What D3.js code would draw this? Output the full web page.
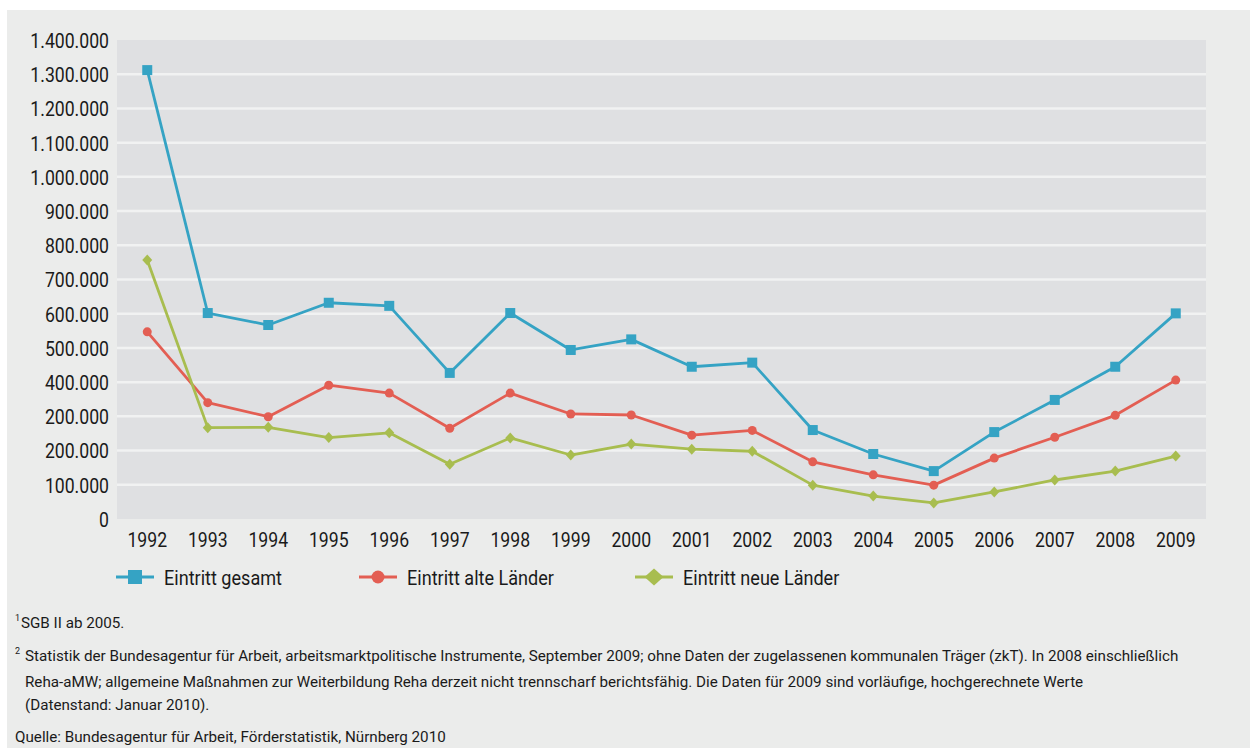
<!DOCTYPE html>
<html>
<head>
<meta charset="utf-8">
<script src="https://cdn.jsdelivr.net/npm/d3@7"></script>
<style>
    body { margin: 0; background: #ffffff; }
    svg text { font-family: Roboto, "Open Sans", sans-serif; fill: #1a1a1a; }
</style>
</head>
<body>
<div id="c1"></div>
<script>
// Data
const years = ["1992","1993","1994","1995","1996","1997","1998","1999","2000",
               "2001","2002","2003","2004","2005","2006","2007","2008","2009"];
const gesamt = [1312000, 602000, 567000, 632000, 623000, 427000, 602000, 494000, 525000,
                445000, 457000, 260000, 190000, 140000, 254000, 348000, 445000, 601000];
const alte = [547000, 340000, 299000, 391000, 368000, 265000, 368000, 307000, 304000,
              245000, 259000, 167000, 129000, 99000, 178000, 239000, 303000, 406000];
const neue = [757000, 267000, 268000, 238000, 252000, 160000, 237000, 187000, 219000,
              204000, 198000, 99000, 67000, 47000, 79000, 114000, 140000, 184000];
const yTicks = [0, 100000, 200000, 300000, 400000, 500000, 600000, 700000,
                800000, 900000, 1000000, 1100000, 1200000, 1300000, 1400000];
// the original prints "200.000" twice
const yTickLabels = ["0","100.000","200.000","200.000","400.000","500.000","600.000","700.000",
                     "800.000","900.000","1.000.000","1.100.000","1.200.000","1.300.000","1.400.000"];
const seriesNames = ["Eintritt gesamt", "Eintritt alte Länder", "Eintritt neue Länder"];
const footnotes = [
    {sup: "1", text: "SGB II ab 2005."},
    {sup: "2", text: "Statistik der Bundesagentur für Arbeit, arbeitsmarktpolitische Instrumente, September 2009; ohne Daten der zugelassenen kommunalen Träger (zkT). In 2008 einschließlich"},
    {sup: "", text: "Reha-aMW; allgemeine Maßnahmen zur Weiterbildung Reha derzeit nicht trennscharf berichtsfähig. Die Daten für 2009 sind vorläufige, hochgerechnete Werte"},
    {sup: "", text: "(Datenstand: Januar 2010)."}
];
const source = "Quelle: Bundesagentur für Arbeit, Förderstatistik, Nürnberg 2010";

//squeeze text horizontally to mimic the condensed typeface
function condense(sel, k) {
    sel.each(function() {
        const w = this.getComputedTextLength();
        d3.select(this)
            .attr("textLength", w * k)
            .attr("lengthAdjust", "spacingAndGlyphs");
    });
}

//marker shapes, w/h in px
function marker(g, k, w, h, color) {
    if (k === 0) {
        g.append("rect").attr("x", -w / 2).attr("y", -h / 2)
            .attr("width", w).attr("height", h).attr("fill", color);
    } else if (k === 1) {
        g.append("circle").attr("r", w / 2).attr("fill", color);
    } else {
        g.append("path")
            .attr("d", `M0,${-h / 2}L${w / 2},0L0,${h / 2}L${-w / 2},0Z`)
            .attr("fill", color);
    }
}

function c1() {
    const W = 1250, H = 749;
    const plot = {l: 117, r: 1206, t: 40, b: 519};
    const colors = ["#35a3c4", "#e35e53", "#a8bd4f"];
    const markerSize = [[10, 10], [9, 9], [10, 11]];
    const legendMarker = [[14, 14], [13, 13], [19, 17]];
    const K = 0.86;
    const Knote = 0.98;

    let svg = d3.select("#c1").append("svg")
        .attr("width", W)
        .attr("height", H);

    //Background panel
    svg.append("rect")
        .attr("x", 7).attr("y", 10)
        .attr("width", W - 7).attr("height", H - 11)
        .attr("fill", "#ebeceb");

    svg.append("rect")
        .attr("x", plot.l).attr("y", plot.t)
        .attr("width", plot.r - plot.l).attr("height", plot.b - plot.t)
        .attr("fill", "#dfe0e2");

    let x = d3.scaleBand().domain(years).range([plot.l, plot.r]).padding(0);
    let y = d3.scaleLinear().domain([0, 1400000]).range([plot.b, plot.t]);
    const cx = d => x(d) + x.bandwidth() / 2;

    //Gridlines
    svg.append("g").selectAll("line")
        .data(yTicks.filter(v => v > 0 && v < 1400000))
        .enter().append("line")
        .attr("x1", plot.l).attr("x2", plot.r)
        .attr("y1", d => y(d)).attr("y2", d => y(d))
        .attr("stroke", "#f1f2f2")
        .attr("stroke-width", 2.5);

    //Y axis
    let axisY = d3.axisLeft(y).tickValues(yTicks)
        .tickFormat((d, i) => yTickLabels[i]).tickSize(0).tickPadding(8);
    let gy = svg.append("g")
        .attr("transform", `translate(${plot.l},0)`)
        .call(axisY);
    gy.select(".domain").remove();
    gy.selectAll("text")
        .attr("font-size", 20.5)
        .attr("dy", "0.36em")
        .style("font-family", "Roboto, sans-serif")
        .attr("fill", "#1a1a1a")
        .call(condense, K);

    //X axis
    let axisX = d3.axisBottom(x).tickSize(0);
    let gx = svg.append("g")
        .attr("transform", `translate(0,${plot.b})`)
        .call(axisX);
    gx.select(".domain").remove();
    gx.selectAll("text")
        .attr("y", 21)
        .attr("dy", "0.36em")
        .attr("font-size", 20.5)
        .style("font-family", "Roboto, sans-serif")
        .attr("fill", "#1a1a1a")
        .call(condense, K);

    //Lines and markers
    const allSeries = [gesamt, alte, neue];
    let line = d3.line()
        .x((d, i) => cx(years[i]))
        .y(d => y(d));

    allSeries.forEach(function(vals, k) {
        svg.append("path")
            .datum(vals)
            .attr("d", line)
            .attr("fill", "none")
            .attr("stroke", colors[k])
            .attr("stroke-width", 2.8)
            .attr("stroke-linejoin", "round");
        svg.append("g").selectAll("g")
            .data(vals)
            .enter().append("g")
            .attr("transform", (d, i) => `translate(${cx(years[i])},${y(d)})`)
            .each(function() {
                marker(d3.select(this), k, markerSize[k][0], markerSize[k][1], colors[k]);
            });
    });

    //Legend
    const legendX = [116, 359, 635];
    const legendW = 38;
    const legendY = 577;
    seriesNames.forEach(function(name, k) {
        let g = svg.append("g").attr("transform", `translate(${legendX[k]},${legendY})`);
        g.append("line")
            .attr("x1", 0).attr("x2", legendW)
            .attr("y1", 0).attr("y2", 0)
            .attr("stroke", colors[k]).attr("stroke-width", 3);
        let m = g.append("g").attr("transform", `translate(${legendW / 2},0)`);
        marker(m, k, legendMarker[k][0], legendMarker[k][1], colors[k]);
        g.append("text")
            .attr("x", legendW + 10)
            .attr("y", 0)
            .attr("dy", "0.36em")
            .attr("font-size", 21)
            .text(name)
            .call(condense, K);
    });

    //Footnotes
    const noteY = [625, 658, 682, 705];
    footnotes.forEach(function(n, i) {
        let t = svg.append("text")
            .attr("x", n.sup ? 15 : 25)
            .attr("y", noteY[i])
            .attr("dy", "0.35em")
            .attr("font-size", 15.5);
        if (n.sup) {
            t.append("tspan")
                .attr("font-size", 9)
                .attr("dy", "-0.45em")
                .text(n.sup);
            t.append("tspan")
                .attr("x", i === 0 ? 21 : 25)
                .attr("dy", "0.45em")
                .text(n.text)
                .call(condense, Knote);
        } else {
            t.text(n.text).call(condense, Knote);
        }
    });

    svg.append("text")
        .attr("x", 15)
        .attr("y", 737)
        .attr("dy", "0.35em")
        .attr("font-size", 15.5)
        .text(source)
        .call(condense, Knote);
}

c1();
</script>
</body>
</html>
